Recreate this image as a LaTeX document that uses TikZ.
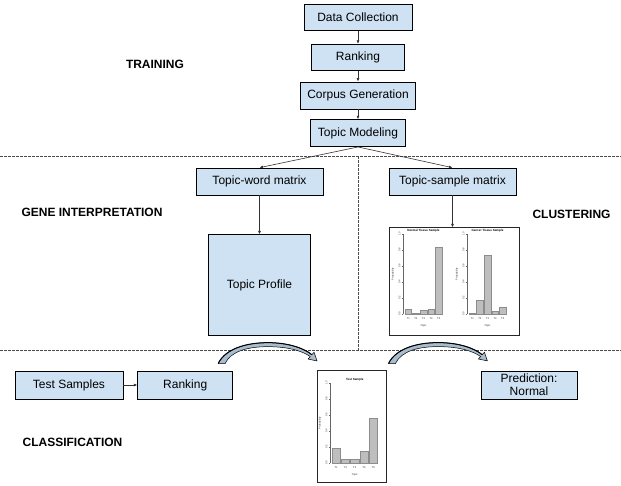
\documentclass[tikz,border=0pt]{standalone}
\usepackage{fontspec}
\setmainfont{Liberation Sans}
\usetikzlibrary{positioning,calc,arrows.meta}

\definecolor{boxblue}{HTML}{CFE2F3}
\definecolor{arcblue}{HTML}{A7BCCE}
\definecolor{barfill}{HTML}{BEBEBE}
\definecolor{bardraw}{HTML}{8C8C8C}

\tikzset{
  stepbox/.style={draw=black, fill=boxblue, line width=0.7pt, inner sep=0pt, minimum height=26pt, font=\fontsize{12}{13}\selectfont},
  chartbox/.style={draw=black!85, fill=white, line width=0.8pt, inner sep=0pt},
  phase/.style={font=\bfseries\fontsize{12}{14}\selectfont},
  flow/.style={draw=black!80, line width=0.6pt, -{Latex[length=3.5pt,width=3pt]}},
  divider/.style={draw=black!70, line width=0.6pt, dash pattern=on 2.5pt off 1.5pt},
  bar/.style={fill=barfill, draw=bardraw, line width=0.3pt},
  axisline/.style={draw=black!60, line width=0.25pt},
  plottext/.style={font=\fontsize{2.6}{3}\selectfont, inner sep=0.3pt, text=black!80},
  plottitle/.style={font=\bfseries\fontsize{3}{3.5}\selectfont, inner sep=0pt},
  bentarrow/.pic={
    \filldraw[fill=arcblue, draw=black, line width=0.5pt, line join=round]
      (0,0) .. controls (8,-15) and (28,-21) .. (50,-21)
      .. controls (70,-21) and (86,-15.5) .. (93.8,-8.9)
      -- (96,-11.4) -- (99,-2.7) -- (90,-4.6) -- (92.2,-7.1)
      .. controls (84,-13) and (69,-17) .. (50,-17)
      .. controls (31,-17) and (13,-13) .. (7,0) -- cycle;
    \draw[line width=1pt] (0.4,-0.8) .. controls (8,-15) and (28,-21) .. (50,-21)
      .. controls (70,-21) and (86,-15.5) .. (93.8,-8.9);
  }
}

% small probability bar plot: name, axis origin, bar pitch, title, values
\newcommand{\probplot}[5]{%
  \begin{scope}[shift={#2}]
    \draw[axisline] (0,0) -- (0,-80);
    \foreach \v/\lab in {0/0.0,16/0.2,32/0.4,48/0.6,64/0.8,80/1.0}{
      \draw[axisline] (0,-\v) -- (-1.5,-\v);
      \node[plottext, rotate=90, anchor=south] (#1tick\v) at (-2,-\v) {\lab};
    }
    \foreach \val [count=\i] in {#5}{
      \filldraw[bar] ({2+(\i-1)*#3},0) rectangle ({1+\i*#3},{-80*\val});
      \node[plottext] (#1t\i) at ({1.5+(\i-0.5)*#3},5) {T\i};
    }
    \node[plottitle] (#1title) at ({1.5+2.5*#3},-83) {#4};
    \node[plottext] (#1xlab) at ({1.5+2.5*#3},12) {Topic};
    \node[plottext, rotate=90] (#1ylab) at (-10,-40) {Probability};
  \end{scope}
}

\begin{document}
\begin{tikzpicture}[x=1pt, y=-1pt]
\useasboundingbox (0,0) rectangle (621,485);

%Declare nodes.
\node[stepbox, minimum width=108pt] (datacol) at (358,17.5) {Data Collection};
\node[stepbox, minimum width=93pt, below=13pt of datacol] (rank) {Ranking};
\node[stepbox, minimum width=115pt, minimum height=27pt, below=11pt of rank] (corpus) {Corpus Generation};
\node[stepbox, minimum width=95pt, minimum height=27pt, below=10pt of corpus] (topicmod) {Topic Modeling};

\node[stepbox, minimum width=127pt, minimum height=27pt] (topicword) at (259.5,181.5) {Topic-word matrix};
\node[stepbox, minimum width=127pt, minimum height=27pt] (topicsample) at (452.5,181.5) {Topic-sample matrix};
\node[stepbox, minimum width=102pt, minimum height=101pt, below=39pt of topicword] (profile) {Topic Profile};
\node[chartbox, minimum width=130pt, minimum height=108pt, below=32pt of topicsample, xshift=1.5pt] (clusterchart) {};

\node[stepbox, minimum width=108pt, minimum height=28pt] (testsamp) at (69,385) {Test Samples};
\node[stepbox, minimum width=95pt, minimum height=28pt, right=14pt of testsamp] (rank2) {Ranking};
\node[chartbox, minimum width=69pt, minimum height=112pt] (testchart) at (351.5,426) {};
\node[stepbox, minimum width=96pt, minimum height=28pt, align=center] (predict) at (529,385) {Prediction:\\Normal};

%Phase labels.
\node[phase] (ltrain) at (155,64) {TRAINING};
\node[phase] (lgene) at (92,212) {GENE INTERPRETATION};
\node[phase] (lclust) at (571.5,214) {CLUSTERING};
\node[phase] (lclass) at (72.5,442) {CLASSIFICATION};

%Phase dividers.
\draw[divider] (0,156) -- (621,156);
\draw[divider] (0,350) -- (621,350);
\draw[divider] (358,156) -- (358,350);

%Plots.
\probplot{normal}{(403,314)}{7.6}{Normal Tissue Sample}{0.06,0.01,0.045,0.066,0.84}
\probplot{cancer}{(467,314)}{7.6}{Cancer Tissue Sample}{0.01,0.17,0.73,0.03,0.08}
\probplot{test}{(330,463)}{9.3}{Test Sample}{0.18,0.05,0.05,0.15,0.56}

%Setup edges.
\draw[flow] (datacol) -- (rank);
\draw[flow] (rank) -- (corpus);
\draw[flow] (corpus) -- (topicmod);
\draw[flow] (topicmod.south) -- (topicword.north);
\draw[flow] (topicmod.south) -- (topicsample.north);
\draw[flow] (topicword) -- (profile);
\draw[flow] (topicsample.south) -- (topicsample.south |- clusterchart.north);
\draw[flow] (testsamp) -- (rank2);

\coordinate (arcL) at ($(rank2.north east)+(-15,-7)$);
\coordinate (arcR) at ($(testchart.north east)+(2,-6)$);
\pic at (arcL) {bentarrow};
\pic at (arcR) {bentarrow};

\end{tikzpicture}
\end{document}
